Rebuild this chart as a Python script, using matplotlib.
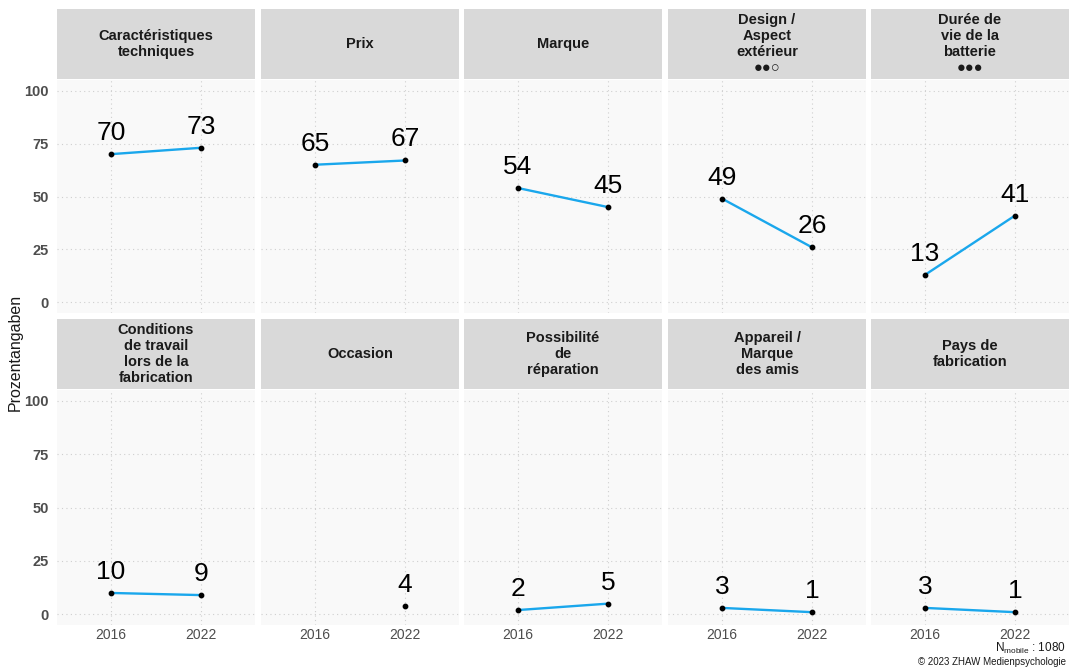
import matplotlib
matplotlib.use("Agg")
import matplotlib.pyplot as plt
import numpy as np

plt.rcParams['font.family'] = ['Liberation Sans', 'DejaVu Sans']

categories = [
    "Caractéristiques\ntechniques",
    "Prix",
    "Marque",
    "Design /\nAspect\nextérieur\n●●○",
    "Durée de\nvie de la\nbatterie\n●●●",
    "Conditions\nde travail\nlors de la\nfabrication",
    "Occasion",
    "Possibilité\nde\nréparation",
    "Appareil /\nMarque\ndes amis",
    "Pays de\nfabrication",
]
years = ["2016", "2022"]
values_2016 = [70, 65, 54, 49, 13, 10, np.nan, 2, 3, 3]
values_2022 = [73, 67, 45, 26, 41, 9, 4, 5, 1, 1]
y_ticks = [0, 25, 50, 75, 100]

W, H = 1069, 669
fig = plt.figure(figsize=(W / 100, H / 100), dpi=100)

col_left = [57, 261, 464, 668, 871]
panel_w = 198
rows = [(9, 79, 80, 313), (319, 389, 390, 625)]  # strip top, strip bottom, panel top, panel bottom

line_col = "#1AA7EC"
grid_col = "#CFCFCF"

for i, cat in enumerate(categories):
    r, c = divmod(i, 5)
    st, sb, pt, pb = rows[r]
    x0 = col_left[c]
    ax = fig.add_axes([x0 / W, 1 - pb / H, panel_w / W, (pb - pt) / H])
    ax.set_facecolor("#F9F9F9")
    for s in ax.spines.values():
        s.set_visible(False)
    ax.set_xlim(0.4, 2.6)
    ax.set_ylim(-5, 105)
    ax.set_yticks(y_ticks)
    ax.set_xticks([1, 2])
    ax.grid(True, color=grid_col, linestyle=(0, (1, 3)), linewidth=0.8)
    ax.set_axisbelow(True)
    ax.tick_params(length=0)
    if c == 0:
        ax.set_yticklabels([str(t) for t in y_ticks], fontsize=10.5, fontweight='bold', color="#4D4D4D")
        ax.tick_params(axis='y', pad=6)
    else:
        ax.set_yticklabels([])
    if r == 1:
        ax.set_xticklabels(years, fontsize=10, color="#4D4D4D")
        ax.tick_params(axis='x', pad=2.5)
    else:
        ax.set_xticklabels([])

    v = [values_2016[i], values_2022[i]]
    xs = np.array([1, 2])
    ax.plot(xs, v, color=line_col, linewidth=1.7, zorder=2)
    ax.scatter(xs, v, color="black", s=10, zorder=3)
    for x, val in zip(xs, v):
        if not np.isnan(val):
            ax.annotate(f"{val:.0f}", (x, val), xytext=(0, 6.5), textcoords="offset points",
                        ha="center", va="bottom", fontsize=19, color="black")

    # strip
    sax = fig.add_axes([x0 / W, 1 - sb / H, panel_w / W, (sb - st) / H])
    sax.set_facecolor("#D9D9D9")
    sax.set_xticks([]); sax.set_yticks([])
    for s in sax.spines.values():
        s.set_visible(False)
    sax.text(0.5, 0.5, cat, ha="center", va="center", fontsize=10.5, fontweight='bold',
             color="#1A1A1A", linespacing=1.17, transform=sax.transAxes)

fig.text(15 / W, 1 - 352 / H, "Prozentangaben", rotation=90, ha="center", va="center",
         fontsize=11.5, color="#1A1A1A")
fig.text(1066 / W, 1 - 648 / H, r"N$_{\mathregular{mobile}}$ : 1080", ha="right", va="center",
         fontsize=8.5, color="#1A1A1A")
fig.text(1066 / W, 1 - 662 / H, "© 2023 ZHAW Medienpsychologie", ha="right", va="center",
         fontsize=7, color="#1A1A1A")

fig.savefig("out.png", dpi=100, facecolor="white")
